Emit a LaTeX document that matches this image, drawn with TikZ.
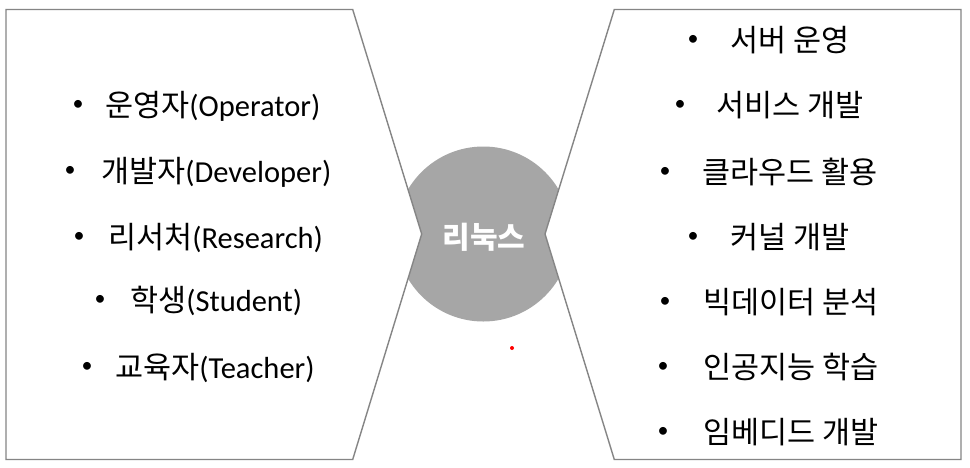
\documentclass[tikz,border=0pt]{standalone}
\usepackage{fontspec}
\setmainfont{Carlito}
\newfontfamily\kr{Noto Sans CJK KR}
\begin{document}
\begin{tikzpicture}[x=1pt,y=-1pt,
  panel/.style={draw=black!48,line width=1.4pt,fill=white,line join=miter},
  itemtext/.style={anchor=base west,inner sep=0,font=\fontsize{30.5}{34}\selectfont,text=black},
  bul/.style={anchor=center,inner sep=0,font=\fontsize{22}{26}\selectfont,text=black},
  hub/.style={circle,fill=black!35,minimum size=175pt,inner sep=0},
  hubtext/.style={inner sep=0,font=\kr\bfseries\fontsize{30}{34}\selectfont,text=white}]
\useasboundingbox (0,0) rectangle (970,467);
\fill[white] (0,0) rectangle (970,467);
% central circle
\node[hub] (hubc) at (483.3,234) {};
% panels
\draw[panel] (6,9.5) -- (352.7,9.5) -- (421.7,234) -- (352.7,459.5) -- (6,459.5) -- cycle;
\draw[panel] (614.3,9.5) -- (961,9.5) -- (961,459.5) -- (614.3,459.5) -- (545,234) -- cycle;
\node[hubtext] (linux) at (484,237) {리눅스};
% red dot
\fill[red] (512,348) circle (2pt);
% left items
\node[bul] (lb1) at (78,105) {•};
\node[itemtext] (l1) at (105,116.5) {{\kr 운영자}(Operator)};
\node[bul] (lb2) at (70,171) {•};
\node[itemtext] (l2) at (101,182.5) {{\kr 개발자}(Developer)};
\node[bul] (lb3) at (79,237) {•};
\node[itemtext] (l3) at (108,248.5) {{\kr 리서처}(Research)};
\node[bul] (lb4) at (100,300) {•};
\node[itemtext] (l4) at (130,311.5) {{\kr 학생}(Student)};
\node[bul] (lb5) at (87,367) {•};
\node[itemtext] (l5) at (115,378.5) {{\kr 교육자}(Teacher)};
% right items
\node[bul] (rb1) at (693,40) {•};
\node[itemtext] (r1) at (730,51.5) {\kr 서버 운영};
\node[bul] (rb2) at (680,105) {•};
\node[itemtext] (r2) at (716,116.5) {\kr 서비스 개발};
\node[bul] (rb3) at (665,172) {•};
\node[itemtext] (r3) at (702,183.5) {\kr 클라우드 활용};
\node[bul] (rb4) at (693,237) {•};
\node[itemtext] (r4) at (730,248.5) {\kr 커널 개발};
\node[bul] (rb5) at (665,302) {•};
\node[itemtext] (r5) at (703,313.5) {\kr 빅데이터 분석};
\node[bul] (rb6) at (663,367) {•};
\node[itemtext] (r6) at (703,378.5) {\kr 인공지능 학습};
\node[bul] (rb7) at (663,432) {•};
\node[itemtext] (r7) at (703,443.5) {\kr 임베디드 개발};
\end{tikzpicture}
\end{document}
